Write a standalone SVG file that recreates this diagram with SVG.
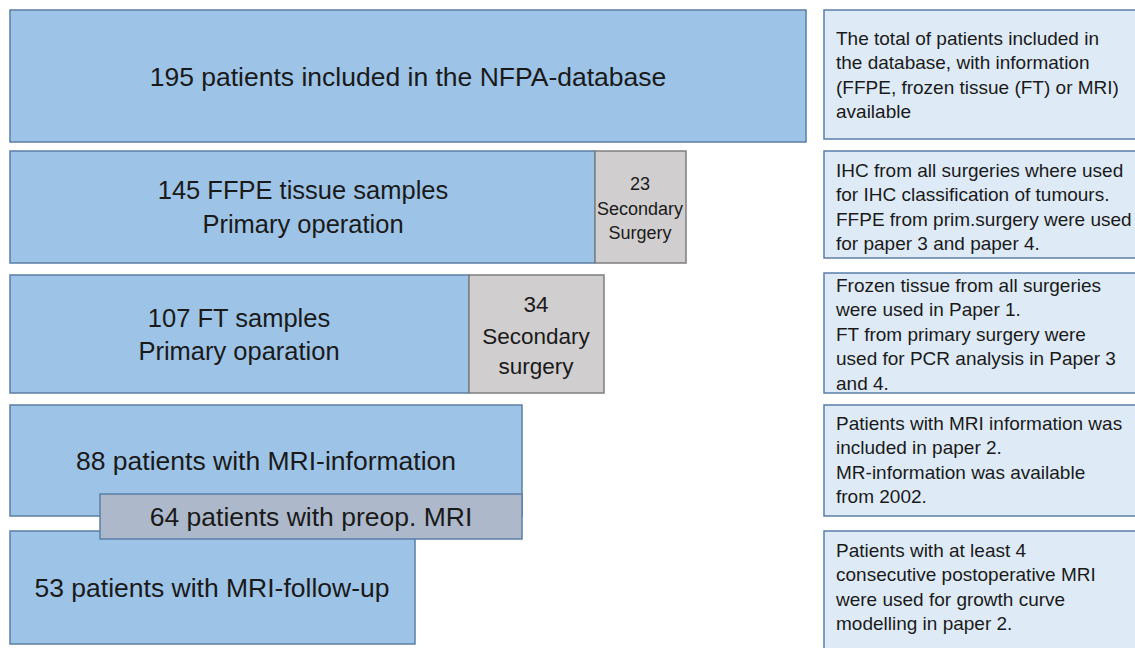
<svg xmlns="http://www.w3.org/2000/svg" width="1135" height="648" viewBox="0 0 1135 648">
<style>
.main{fill:#9dc3e6;stroke:#5b7fa6;stroke-width:1.5}
.sec{fill:#d0cece;stroke:#7f7f7f;stroke-width:1.5}
.pre{fill:#adb9ca;stroke:#5b7fa6;stroke-width:1.5}
.note{fill:#deebf7;stroke:#5b7fa6;stroke-width:1.5}
text{font-family:"Liberation Sans",Arial,sans-serif;fill:#1a1a1a}
.big{font-size:26.5px;text-anchor:middle}
.big2{font-size:25.5px;text-anchor:middle}
.mid{font-size:22.5px;text-anchor:middle}
.sm{font-size:18px;text-anchor:middle}
.nt{font-size:19px}
</style>
<rect width="1135" height="648" fill="#ffffff"/>
<g id="connectors"></g>
<g id="n195">
<rect class="main" x="10" y="10" width="796" height="132"/>
<text class="big" x="408" y="86">195 patients included in the NFPA-database</text>
</g>
<g id="n145">
<rect class="main" x="10" y="151" width="585" height="112"/>
<text class="big2" x="303" y="199">145 FFPE tissue samples</text>
<text class="big2" x="303" y="233">Primary operation</text>
</g>
<g id="n23">
<rect class="sec" x="595" y="151" width="91" height="112"/>
<text class="sm" x="640" y="190">23</text>
<text class="sm" x="640" y="215">Secondary</text>
<text class="sm" x="640" y="239">Surgery</text>
</g>
<g id="n107">
<rect class="main" x="10" y="275" width="459" height="118"/>
<text class="big2" x="239" y="327">107 FT samples</text>
<text class="big2" x="239" y="360">Primary oparation</text>
</g>
<g id="n34">
<rect class="sec" x="469" y="275" width="135" height="118"/>
<text class="mid" x="536" y="312">34</text>
<text class="mid" x="536" y="344">Secondary</text>
<text class="mid" x="536" y="374">surgery</text>
</g>
<g id="n88">
<rect class="main" x="10" y="405" width="512" height="111"/>
<text class="big" x="266" y="470">88 patients with MRI-information</text>
</g>
<g id="n53">
<rect class="main" x="10" y="531" width="405" height="113"/>
<text class="big" x="212" y="597">53 patients with MRI-follow-up</text>
</g>
<g id="n64">
<rect class="pre" x="100" y="494" width="422" height="45"/>
<text class="big" x="311" y="526">64 patients with preop. MRI</text>
</g>
<g id="noteA">
<rect class="note" x="824" y="10" width="320" height="129"/>
<text class="nt" x="836" y="45">The total of patients included in</text>
<text class="nt" x="836" y="69">the database, with information</text>
<text class="nt" x="836" y="94">(FFPE, frozen tissue (FT) or MRI)</text>
<text class="nt" x="836" y="118">available</text>
</g>
<g id="noteB">
<rect class="note" x="824" y="151" width="320" height="107"/>
<text class="nt" x="836" y="177">IHC from all surgeries where used</text>
<text class="nt" x="836" y="201">for IHC classification of tumours.</text>
<text class="nt" x="836" y="226">FFPE from prim.surgery were used</text>
<text class="nt" x="836" y="250">for paper 3 and paper 4.</text>
</g>
<g id="noteC">
<rect class="note" x="824" y="273" width="320" height="120"/>
<text class="nt" x="836" y="292">Frozen tissue from all surgeries</text>
<text class="nt" x="836" y="316">were used in Paper 1.</text>
<text class="nt" x="836" y="341">FT from primary surgery were</text>
<text class="nt" x="836" y="365">used for PCR analysis in Paper 3</text>
<text class="nt" x="836" y="390">and 4.</text>
</g>
<g id="noteD">
<rect class="note" x="824" y="405" width="320" height="111"/>
<text class="nt" x="836" y="430">Patients with MRI information was</text>
<text class="nt" x="836" y="454">included in paper 2.</text>
<text class="nt" x="836" y="479">MR-information was available</text>
<text class="nt" x="836" y="503">from 2002.</text>
</g>
<g id="noteE">
<rect class="note" x="824" y="531" width="320" height="130"/>
<text class="nt" x="836" y="557">Patients with at least 4</text>
<text class="nt" x="836" y="581">consecutive postoperative MRI</text>
<text class="nt" x="836" y="606">were used for growth curve</text>
<text class="nt" x="836" y="630">modelling in paper 2.</text>
</g>
</svg>
